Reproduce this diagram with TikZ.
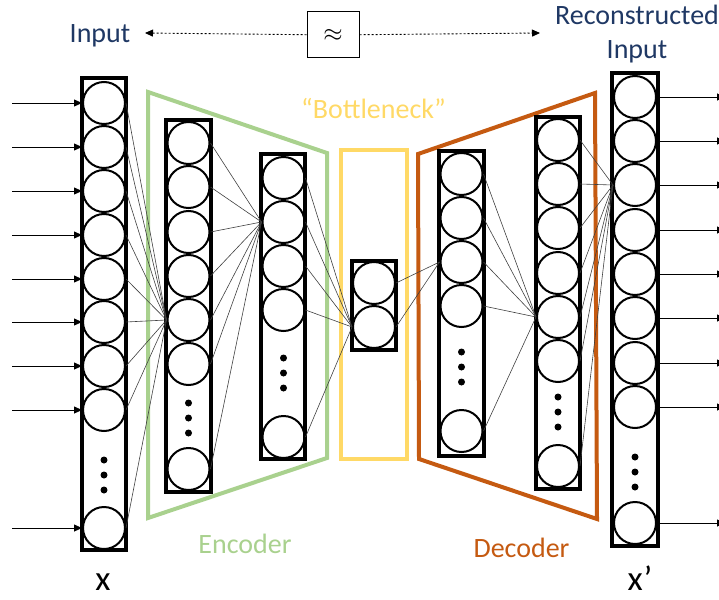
\documentclass[tikz,border=0pt]{standalone}
\usepackage{fontspec}
\setmainfont{Carlito}
\usetikzlibrary{arrows.meta}
\definecolor{txtblue}{HTML}{1F3864}
\definecolor{encgreen}{HTML}{A9D18E}
\definecolor{bnyellow}{HTML}{FFD966}
\definecolor{decorange}{HTML}{C55A11}

\begin{document}
\begin{tikzpicture}[
    x=1pt, y=-1pt,
    neuron/.style={circle, draw, line width=2pt, minimum size=42pt, inner sep=0pt},
    layerbox/.style={draw, line width=4pt},
    link/.style={black!75, line width=0.6pt},
    arrow/.style={-{Triangle[length=8pt, width=7pt]}, line width=0.8pt},
    dasharrow/.style={-{Triangle[length=8pt, width=7pt]}, line width=0.9pt, dash pattern=on 2pt off 2pt},
    txt/.style={anchor=base, font=\fontsize{28}{34}\selectfont},
    big/.style={anchor=base, inner sep=0pt, font=\fontsize{35}{35}\selectfont}
]
    \useasboundingbox (0,0) rectangle (719,599);

    % Encoder, bottleneck and decoder frames
    \draw[encgreen, line width=4pt] (148,92) -- (327,153) -- (327,458) -- (148,518) -- cycle;
    \draw[bnyellow, line width=4pt] (341,150) rectangle (407,459);
    \draw[decorange, line width=4pt] (418,154) -- (595,93) -- (597,519) -- (419,459) -- cycle;

    % Layers
    \foreach \y [count=\i] in {103,147,191,235,279,322,366,410,528}
        \node[neuron] (L1-\i) at (104,\y) {};
    \foreach \y in {460,475,490} \fill (104,\y) circle (3.5);
    \draw[layerbox] (82,78) rectangle (126,550);

    \foreach \y [count=\i] in {143,187,232,276,320,364,469}
        \node[neuron] (L2-\i) at (188.5,\y) {};
    \foreach \y in {403,418,433} \fill (188.5,\y) circle (3.5);
    \draw[layerbox] (166,120) rectangle (211,492);

    \foreach \y [count=\i] in {178,222,266,310,437}
        \node[neuron] (L3-\i) at (283.5,\y) {};
    \foreach \y in {358,373,388} \fill (283.5,\y) circle (3.5);
    \draw[layerbox] (261,154) rectangle (305,459);

    \foreach \y [count=\i] in {283,327}
        \node[neuron] (L4-\i) at (374,\y) {};
    \draw[layerbox] (352,261) rectangle (396,350);

    \foreach \y [count=\i] in {174,218,262,306,431}
        \node[neuron] (L5-\i) at (461.5,\y) {};
    \foreach \y in {352,367,382} \fill (461.5,\y) circle (3.5);
    \draw[layerbox] (439,151) rectangle (484,456);

    \foreach \y [count=\i] in {140,184,228,273,317,361,466}
        \node[neuron] (L6-\i) at (558,\y) {};
    \foreach \y in {397,412,427} \fill (558,\y) circle (3.5);
    \draw[layerbox] (536,117) rectangle (580,489);

    \foreach \y [count=\i] in {97,141,185,230,274,318,363,407,523}
        \node[neuron] (L7-\i) at (635,\y) {};
    \foreach \y in {457,472,487} \fill (635,\y) circle (3.5);
    \draw[layerbox] (612,73) rectangle (658,546);

    % Links
    \foreach \i in {1,...,9} \draw[link] (L1-\i.east) -- (L2-5.west);
    \foreach \i in {1,...,7} \draw[link] (L2-\i.east) -- (L3-2.west);
    \foreach \i in {1,...,5} \draw[link] (L3-\i.east) -- (L4-2.west);
    \foreach \i in {1,2} \draw[link] (L4-\i.east) -- (L5-3.west);
    \foreach \i in {1,...,5} \draw[link] (L5-\i.east) -- (L6-5.west);
    \foreach \i in {1,...,7} \draw[link] (L6-\i.east) -- (L7-3.west);

    % Inputs and outputs
    \foreach \i in {1,...,9} {
        \path (L1-\i.west) ++(-70,0) coordinate (src\i);
        \draw[arrow] (src\i) -- (L1-\i.west);
        \path (L7-\i.east) ++(68,0) coordinate (dst\i);
        \draw[arrow] (L7-\i.east) -- (dst\i);
    }

    % Labels
    \node[txt, text=txtblue] (inp) at (100,43) {Input};
    \node[txt, text=txtblue, align=center] (rec) at (637,59) {Reconstructed\\Input};
    \node[draw, line width=1pt, minimum width=52pt, minimum height=46pt] (approx) at (333,35)
        {\fontsize{24}{24}\selectfont$\approx$};
    \coordinate (lt) at (145,33);
    \coordinate (rt) at (540,33);
    \draw[dasharrow] (approx) -- (lt);
    \draw[dasharrow] (approx) -- (rt);

    \node[txt, text=bnyellow] (bneck) at (373.5,118) {“Bottleneck”};
    \node[txt, text=encgreen] (enc) at (245,553) {Encoder};
    \node[txt, text=decorange] (dec) at (521.5,557) {Decoder};
    \node[big] (xin) at (103,590) {x};
    \node[big] (xout) at (640,590) {x’};
\end{tikzpicture}
\end{document}
